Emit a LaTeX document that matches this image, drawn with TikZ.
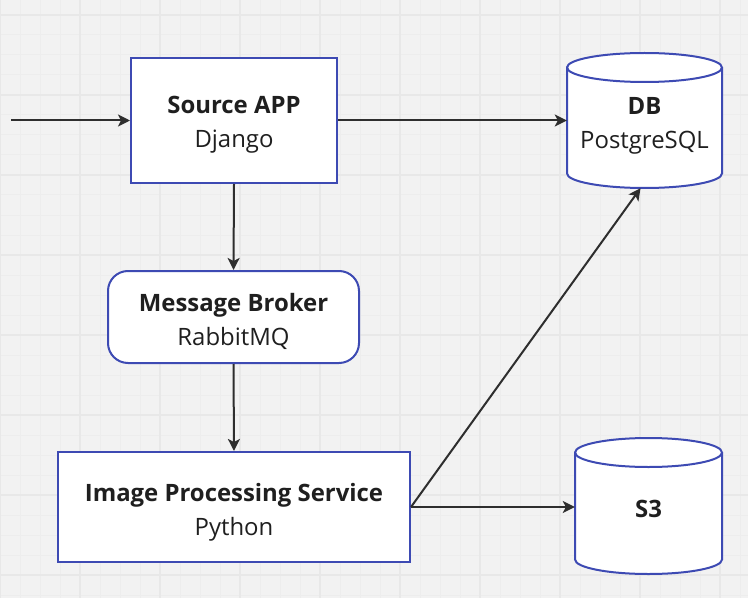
\documentclass[tikz,border=0pt]{standalone}
\usepackage{fontspec}
\setmainfont{Open Sans}
\usetikzlibrary{arrows.meta}
\definecolor{bgc}{HTML}{F2F2F2}
\definecolor{gridminor}{HTML}{EDEDED}
\definecolor{gridmajor}{HTML}{E8E8E8}
\definecolor{edgeblue}{HTML}{3D4AB3}
\definecolor{txt}{HTML}{1F1F1F}
\definecolor{arr}{HTML}{2E2E2E}
\tikzset{
  box/.style={draw=edgeblue, line width=2bp, fill=white, text=txt, align=center,
    font=\fontsize{24}{34}\selectfont, inner sep=0pt},
  cyl/.style={inner sep=0pt, text=txt, align=center, font=\fontsize{24}{34}\selectfont},
  cylline/.style={draw=edgeblue, line width=2bp, fill=white},
  conn/.style={draw=arr, line width=2bp, -{Stealth[length=12bp,width=12bp,inset=3bp]}},
}
\newcommand{\cylshape}[5]{% cx, top, bottom, halfwidth, ry
  \path[cylline] (#1-#4,#2+#5) -- (#1-#4,#3-#5)
     arc[start angle=180,end angle=360,x radius=#4,y radius=-#5]
     -- (#1+#4,#2+#5)
     arc[start angle=0,end angle=180,x radius=#4,y radius=-#5] -- cycle;
  \draw[edgeblue, line width=2bp] (#1-#4,#2+#5) arc[start angle=180,end angle=360,x radius=#4,y radius=-#5];
}
\begin{document}
\begin{tikzpicture}[x=1bp,y=-1bp]
\fill[bgc] (0,0) rectangle (748,598);
\useasboundingbox (0,0) rectangle (748,598);
\foreach \x in {20,40,...,740} \draw[gridminor, line width=1bp] (\x,0) -- (\x,598);
\foreach \y in {-5,15,...,595} \draw[gridminor, line width=1bp] (0,\y) -- (748,\y);
\foreach \x in {0,80,...,720} \draw[gridmajor, line width=1.5bp] (\x,0) -- (\x,598);
\foreach \y in {15,95,...,575} \draw[gridmajor, line width=1.5bp] (0,\y) -- (748,\y);

% cylinders
\cylshape{644.5}{53}{188}{77.5}{14.5}
\cylshape{648.5}{438}{574}{73.5}{14.5}

\node[box, minimum width=206bp, minimum height=125bp] (src) at (234,120.5) {};
\node[cyl] (srctext) at (234,125) {\textbf{Source APP}\\Django};
\node[box, rounded corners=20bp, minimum width=251bp, minimum height=92bp] (broker) at (233.5,317) {};
\node[cyl] (brokertext) at (233.5,321.5) {\textbf{Message Broker}\\RabbitMQ};
\node[box, minimum width=352bp, minimum height=110bp] (ips) at (234,507) {};
\node[cyl] (ipstext) at (234,512) {\textbf{Image Processing Service}\\Python};
\node[cyl, minimum width=155bp, minimum height=135bp] (db) at (644.5,120.5) {};
\node[cyl] (dbtext) at (644.5,126) {\textbf{DB}\\PostgreSQL};
\node[cyl, minimum width=147bp, minimum height=136bp] (s3) at (648.5,506) {};
\node[cyl] (s3text) at (648.5,509) {\textbf{S3}};

\coordinate (in) at (11,120.5);
\draw[conn] (in) -- (src.west);
\draw[conn] (src.east) -- (db.west |- src.east);
\draw[conn] (src.south) -- (broker.north);
\draw[conn] (broker.south) -- (ips.north);
\draw[conn] (ips.east) -- (s3.west |- ips.east);
\draw[conn] (ips.east) -- ([xshift=-4bp]db.south);
\end{tikzpicture}
\end{document}
